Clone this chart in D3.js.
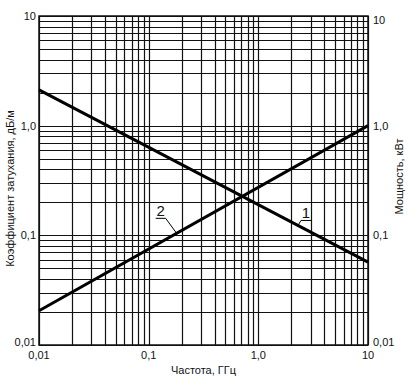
<!DOCTYPE html>
<html>
<head>
<meta charset="utf-8">
<script src="https://cdn.jsdelivr.net/npm/d3@7"></script>
<style>
  body { margin: 0; background: #fff; }
  text { font-family: "Liberation Sans", Arial, sans-serif; fill: #111; }
</style>
</head>
<body>
<svg id="chart"></svg>
<script>
// data
const freqs = [0.01, 10];                 // ГГц
const attenuation = [0.0205, 1.0];        // curve "2": дБ/м
const power = [2.12, 0.057];              // curve "1": кВт
const xTicks = [0.01, 0.1, 1, 10];
const xTickLabels = ['0,01', '0,1', '1,0', '10'];
const yTicks = [0.01, 0.1, 1, 10];
const yTickLabels = ['0,01', '0,1', '1,0', '10'];

const width = 409, height = 378;
const margin = {top: 16, right: 41, bottom: 33, left: 39};

const svg = d3.select('#chart')
    .attr('width', width)
    .attr('height', height);

const inner_width = width - margin.left - margin.right;
const inner_height = height - margin.top - margin.bottom;

const chart = svg.append('g')
    .attr('transform', `translate(${margin.left}, ${margin.top})`);

const xscale = d3.scaleLog().domain([0.01, 10]).range([0, inner_width]);
const yscale = d3.scaleLog().domain([0.01, 10]).range([inner_height, 0]);

// grid: 1..9 in every decade
const gridVals = [];
[0.01, 0.1, 1].forEach(d => { for (let k = 1; k <= 9; k++) gridVals.push(d * k); });
gridVals.push(10);

chart.selectAll('.vgrid')
    .data(gridVals)
    .join('line')
    .attr('class', 'vgrid')
    .attr('x1', d => Math.round(xscale(d)) + 0.5)
    .attr('x2', d => Math.round(xscale(d)) + 0.5)
    .attr('y1', 0)
    .attr('y2', inner_height)
    .attr('stroke', '#111')
    .attr('stroke-width', 1.2);

chart.selectAll('.hgrid')
    .data(gridVals)
    .join('line')
    .attr('class', 'hgrid')
    .attr('y1', d => Math.round(yscale(d)) + 0.5)
    .attr('y2', d => Math.round(yscale(d)) + 0.5)
    .attr('x1', 0)
    .attr('x2', inner_width)
    .attr('stroke', '#111')
    .attr('stroke-width', 1.2);

chart.append('rect')
    .attr('x', 0).attr('y', 0)
    .attr('width', inner_width).attr('height', inner_height)
    .attr('fill', 'none')
    .attr('stroke', '#111')
    .attr('stroke-width', 1.5);

// tick labels
const fs = '11px';
chart.selectAll('.xlab')
    .data(xTicks)
    .join('text')
    .attr('class', 'xlab')
    .attr('x', d => xscale(d))
    .attr('y', inner_height + 14)
    .attr('text-anchor', 'middle')
    .style('font-size', fs)
    .text((d, i) => xTickLabels[i]);

chart.selectAll('.ylab')
    .data(yTicks)
    .join('text')
    .attr('class', 'ylab')
    .attr('x', -3)
    .attr('y', d => yscale(d) - (d === 0.01 ? 3 : 0))
    .attr('dy', '0.35em')
    .attr('text-anchor', 'end')
    .style('font-size', fs)
    .text((d, i) => yTickLabels[i]);

chart.selectAll('.ylab2')
    .data(yTicks)
    .join('text')
    .attr('class', 'ylab2')
    .attr('x', inner_width + 5)
    .attr('y', d => yscale(d) + (d === 10 ? 4 : d === 0.01 ? -3 : 0))
    .attr('dy', '0.35em')
    .attr('text-anchor', 'start')
    .style('font-size', fs)
    .text((d, i) => yTickLabels[i]);

// axis titles
svg.append('text')
    .attr('x', margin.left + inner_width / 2)
    .attr('y', height - 4)
    .attr('text-anchor', 'middle')
    .style('font-size', fs)
    .text('Частота, ГГц');

svg.append('text')
    .attr('transform', `translate(14, ${margin.top + inner_height / 2 + 8}) rotate(-90)`)
    .attr('text-anchor', 'middle')
    .style('font-size', fs)
    .text('Коэффициент затухания, дБ/м');

svg.append('text')
    .attr('transform', `translate(403, ${margin.top + inner_height / 2 - 4}) rotate(-90)`)
    .attr('text-anchor', 'middle')
    .style('font-size', fs)
    .text('Мощность, кВт');

// curves
const line = d3.line()
    .x(d => xscale(d[0]))
    .y(d => yscale(d[1]));

const series = [
    {name: '1', values: power},
    {name: '2', values: attenuation}
];

chart.selectAll('.curve')
    .data(series)
    .join('path')
    .attr('class', 'curve')
    .attr('d', s => line(freqs.map((f, i) => [f, s.values[i]])))
    .attr('fill', 'none')
    .attr('stroke', '#000')
    .attr('stroke-width', 3);

// callout labels: anchor freq on the curve, label offset in px
const callouts = [
    {name: '1', values: power, freq: 2.3, dx: 3, dy: -5, side: 'left'},
    {name: '2', values: attenuation, freq: 0.18, dx: -11, dy: -15, side: 'right'}
];
const onCurve = (vals, f) => {
    const t = (Math.log10(f) - Math.log10(freqs[0])) / (Math.log10(freqs[1]) - Math.log10(freqs[0]));
    return Math.pow(10, Math.log10(vals[0]) + t * (Math.log10(vals[1]) - Math.log10(vals[0])));
};
callouts.forEach(c => {
    const px = xscale(c.freq), py = yscale(onCurve(c.values, c.freq));
    const ux = px + c.dx, uy = py + c.dy;
    const u0 = c.side === 'left' ? ux : ux - 10;
    const u1 = c.side === 'left' ? ux + 10 : ux;
    chart.append('path')
        .attr('d', `M${px},${py}L${ux},${uy}L${c.side === 'left' ? u1 : u0},${uy}`)
        .attr('fill', 'none')
        .attr('stroke', '#000')
        .attr('stroke-width', 1);
    chart.append('text')
        .attr('x', (u0 + u1) / 2)
        .attr('y', uy - 2)
        .attr('text-anchor', 'middle')
        .style('font-size', '15px')
        .text(c.name);
});
</script>
</body>
</html>
